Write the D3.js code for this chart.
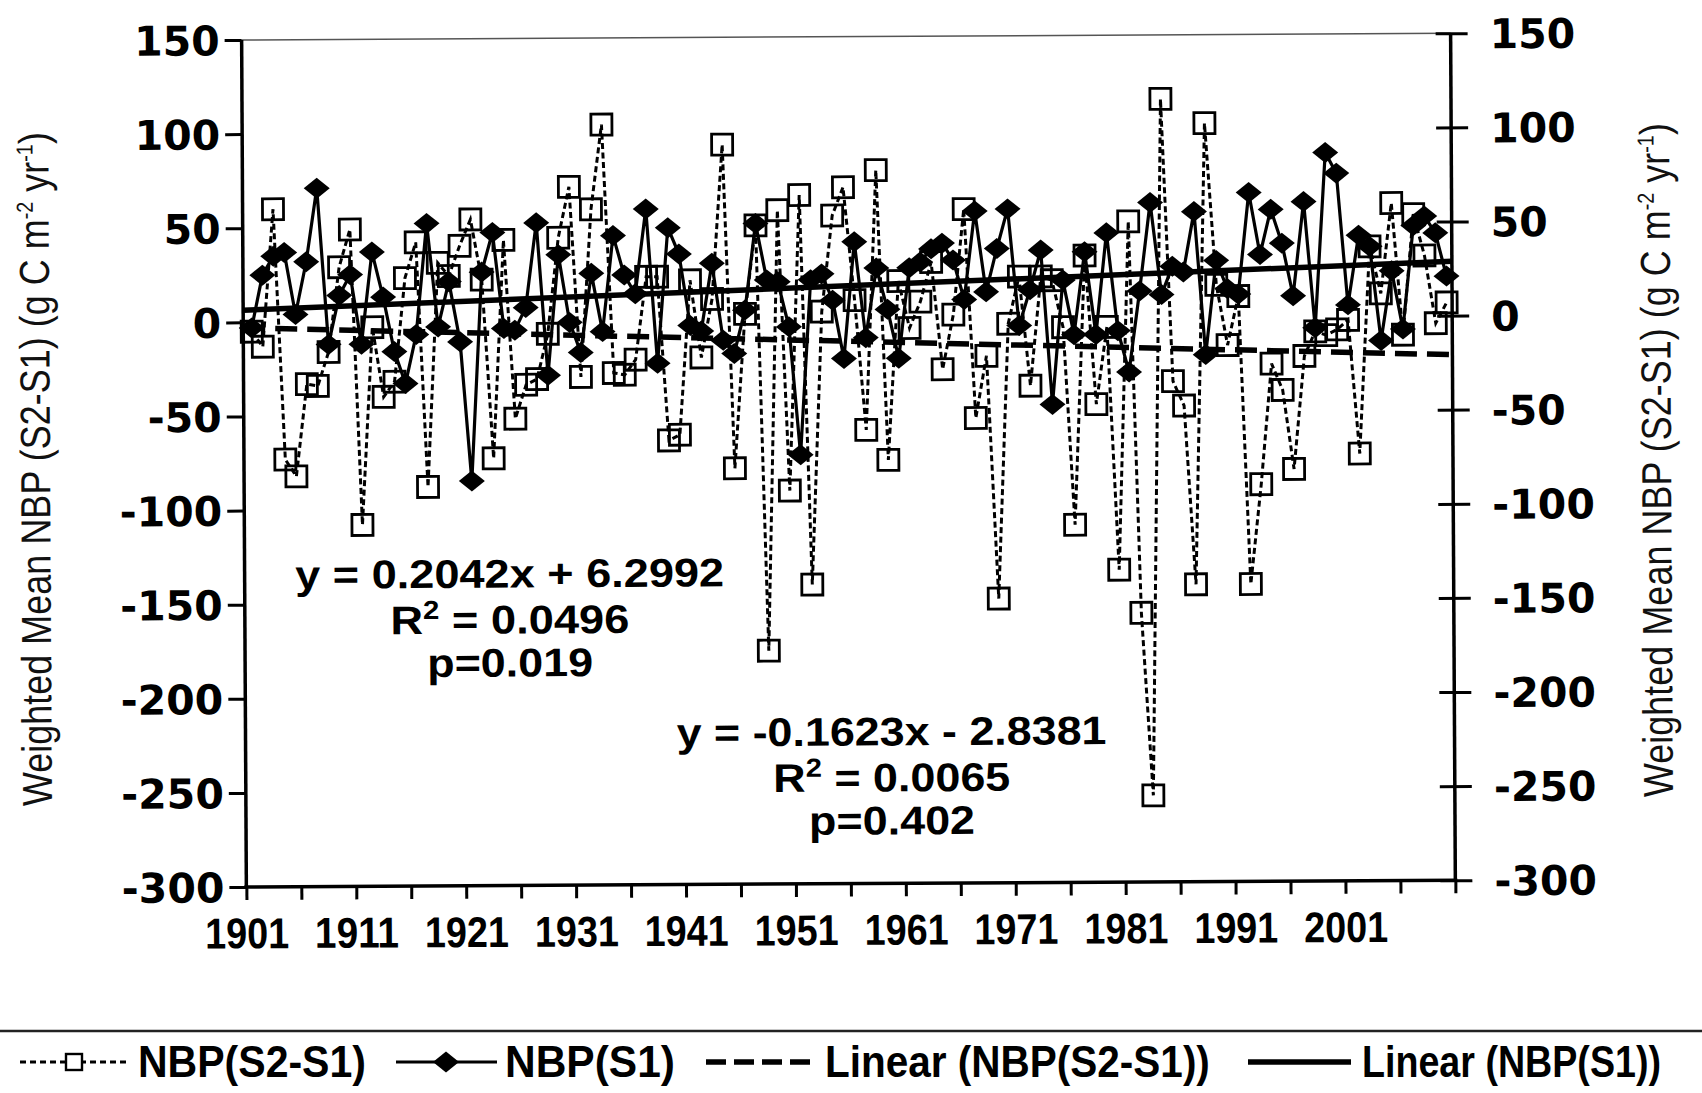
<html>
<head>
<meta charset="utf-8">
<script src="https://d3js.org/d3.v7.min.js"></script>
<style>
body { margin: 0; background: #fff; }
.tick-label { font-family: "DejaVu Sans", sans-serif; font-weight: bold; font-size: 41px; fill: #000; }
.year-label { font-family: "Liberation Sans", Arial, sans-serif; font-weight: bold; font-size: 43px; fill: #000; }
.eq { font-family: "Liberation Sans", Arial, sans-serif; font-weight: bold; font-size: 40px; fill: #000; }
.ytitle { font-family: "Liberation Sans", Arial, sans-serif; font-size: 40px; fill: #111; }
.legend { font-family: "Liberation Sans", Arial, sans-serif; font-weight: bold; font-size: 44px; fill: #000; }
</style>
</head>
<body>
<svg id="chart" width="1702" height="1093"></svg>
<script>

// categories
var years = d3.range(1901, 2011);

// NBP(S2-S1), open squares, dashed
var nbpS2S1 = [
  -5, -13, 60, -73, -82, -33, -34, -16, 29, 49,
  -108, -3, -40, -32, 23, 42, -88, 31, 24, 40,
  54, 22, -73, 43, -52, -34, -31, -7, 44, 71,
  -30, 59, 104, -28, -29, -21, 23, 23, -64, -61,
  21, -20, 11, 93, -79, 3, 50, -176, 58, -91,
  66, -141, 4, 55, 70, 10, -59, 79, -75, 20,
  -5, 9, 30, -27, 2, 58, -53, -20, -149, -3,
  22, -36, 22, 20, -5, -110, 33, -46, -5, -134,
  51, -157, -254, 116, -34, -47, -142, 103, 17, -15,
  11, -142, -89, -25, -39, -81, -21, -8, -10, -7,
  -2, -73, 37, 12, 60, -10, 54, 32, -4, 7
];

// NBP(S1), filled diamonds, solid
var nbpS1 = [
  -3, 25, 35, 37, 4, 32, 71, -12, 14, 25,
  -12, 37, 13, -16, -33, -7, 52, -3, 21, -11,
  -85, 26, 47, -4, -5, 7, 52, -29, 35, -1,
  -17, 25, -6, 45, 24, 14, 59, -23, 49, 35,
  -3, -6, 30, -11, -18, 5, 51, 21, 20, -4,
  -72, 21, 24, 10, -21, 41, -10, 27, 5, -21,
  27, 30, 37, 40, 31, 10, 57, 14, 37, 58,
  -4, 15, 36, -46, 20, -9, 35, -9, 45, -7,
  -29, 14, 61, 12, 27, 24, 56, -20, 30, 15,
  12, 66, 33, 57, 39, 11, 61, -6, 87, 76,
  6, 43, 37, -13, 24, -7, 48, 53, 44, 21
];

// linear trend lines as printed on the chart (x = 1..110)
var trendS2S1 = { slope: -0.1623, intercept: -2.8381 };
var trendS1   = { slope: 0.2042,  intercept: 6.2992 };

var yTicks = [150, 100, 50, 0, -50, -100, -150, -200, -250, -300];
var xTickYears = d3.range(1901, 2012, 5);
var xLabelYears = [1901, 1911, 1921, 1931, 1941, 1951, 1961, 1971, 1981, 1991, 2001];

var eq1 = ["y = 0.2042x + 6.2992", "0.0496", "p=0.019"];
var eq2 = ["y = -0.1623x - 2.8381", "0.0065", "p=0.402"];

var legendItems = ["NBP(S2-S1)", "NBP(S1)", "Linear (NBP(S2-S1))", "Linear (NBP(S1))"];

var width = 1702, height = 1093;
var margin = {top: 40, right: 249, bottom: 206, left: 244};

var root = d3.select("#chart");
root.append("rect").attr("width", width).attr("height", height).attr("fill", "#fff");

// the printed chart is slightly tilted
var svg = root.append("g")
    .attr("transform", "rotate(-0.32, 244, 464)");

var x0 = margin.left, x1 = width - margin.right;
var y0 = margin.top, y1 = height - margin.bottom;

var x = d3.scaleBand()
    .domain(years)
    .range([x0 + 3, x1]);

// edges of the categories, for ticks and trend lines
var xEdge = d3.scaleLinear()
    .domain([1901, 2011])
    .range([x0, x1]);

var y = d3.scaleLinear()
    .domain([-300, 150])
    .range([y1, y0]);

var cx = function(d, i){ return x(years[i]) + x.bandwidth()/2; };

// squeeze or stretch a text horizontally to a given width, keeping its height
function squeeze(sel, w){
    sel.each(function(){
        var t = d3.select(this);
        var n = this.getComputedTextLength();
        if (!n) return;
        var px = +t.attr("x") || 0, py = +t.attr("y") || 0;
        t.attr("x", 0).attr("y", 0)
         .attr("transform", "translate(" + px + "," + py + ") scale(" + (w / n) + ",1)");
    });
}

// thin plot border on top
svg.append("line")
    .attr("x1", x0).attr("x2", x1).attr("y1", y0).attr("y2", y0)
    .attr("stroke", "#555").attr("stroke-width", 1.5);

// left axis
var leftAxis = svg.append("g")
    .attr("transform", "translate(" + x0 + ",0)")
    .call(d3.axisLeft(y).tickValues(yTicks).tickSize(17).tickPadding(5)
        .tickFormat(function(d){ return String(d); }));
leftAxis.select(".domain").remove();
leftAxis.selectAll("line").attr("stroke", "#000").attr("stroke-width", 3);
leftAxis.selectAll("text").attr("class", "tick-label").attr("dy", "0.36em");

// right axis
var rightAxis = svg.append("g")
    .attr("transform", "translate(" + x1 + ",0)")
    .call(d3.axisRight(y).tickValues(yTicks).tickSize(17).tickPadding(22)
        .tickFormat(function(d){ return String(d); }));
rightAxis.select(".domain").remove();
rightAxis.selectAll("line").attr("x1", -15).attr("stroke", "#000").attr("stroke-width", 3);
rightAxis.selectAll("text").attr("class", "tick-label").attr("dy", "0.36em");

// bottom axis
var bottomAxis = svg.append("g")
    .attr("transform", "translate(0," + y1 + ")")
    .call(d3.axisBottom(xEdge)
        .tickValues(xTickYears)
        .tickSize(13)
        .tickPadding(16)
        .tickFormat(function(d){ return xLabelYears.indexOf(d) >= 0 ? d : ""; }));
bottomAxis.select(".domain").remove();
bottomAxis.selectAll("line").attr("stroke", "#000").attr("stroke-width", 3);
bottomAxis.selectAll("text").attr("class", "year-label").attr("dy", "0.75em")
    .filter(function(d){ return xLabelYears.indexOf(d) >= 0; })
    .call(squeeze, 84);

// axis lines
svg.append("line").attr("x1", x0).attr("x2", x0).attr("y1", y0).attr("y2", y1)
    .attr("stroke", "#000").attr("stroke-width", 3.5);
svg.append("line").attr("x1", x1).attr("x2", x1).attr("y1", y0).attr("y2", y1)
    .attr("stroke", "#000").attr("stroke-width", 3.5);
svg.append("line").attr("x1", x0 - 2).attr("x2", x1 + 2).attr("y1", y1).attr("y2", y1)
    .attr("stroke", "#000").attr("stroke-width", 3.5);

// NBP(S2-S1) line + squares
var line = d3.line().x(cx).y(function(d){ return y(d); });

svg.append("path")
    .datum(nbpS2S1)
    .attr("d", line)
    .attr("fill", "none")
    .attr("stroke", "#000")
    .attr("stroke-width", 3)
    .attr("stroke-dasharray", "6,3.5");

var sq = 21;
svg.selectAll(".sq")
    .data(nbpS2S1)
    .enter().append("rect")
    .attr("class", "sq")
    .attr("x", function(d, i){ return cx(d, i) - sq/2; })
    .attr("y", function(d){ return y(d) - sq/2; })
    .attr("width", sq).attr("height", sq)
    .attr("fill", "none")
    .attr("stroke", "#000")
    .attr("stroke-width", 2.8);

// NBP(S1) line + diamonds
svg.append("path")
    .datum(nbpS1)
    .attr("d", line)
    .attr("fill", "none")
    .attr("stroke", "#000")
    .attr("stroke-width", 3.2);

var diamond = "M0,-10.5L13,0L0,10.5L-13,0Z";
svg.selectAll(".dia")
    .data(nbpS1)
    .enter().append("path")
    .attr("class", "dia")
    .attr("d", diamond)
    .attr("transform", function(d, i){ return "translate(" + cx(d, i) + "," + y(d) + ")"; })
    .attr("fill", "#000");

// trend lines
function trend(t){
    var n = years.length;
    return [
        [xEdge(1901), y(t.intercept + t.slope * 0.5)],
        [xEdge(2011), y(t.intercept + t.slope * (n + 0.5))]
    ];
}
svg.append("path")
    .attr("d", d3.line()(trend(trendS2S1)))
    .attr("stroke", "#000").attr("stroke-width", 5.5)
    .attr("stroke-dasharray", "22,10")
    .attr("fill", "none");
svg.append("path")
    .attr("d", d3.line()(trend(trendS1)))
    .attr("stroke", "#000").attr("stroke-width", 5.5)
    .attr("fill", "none");

// equations
function equation(lines, cxPos, baseY, widths){
    var a = svg.append("text").attr("class", "eq").attr("text-anchor", "middle")
        .attr("x", cxPos).attr("y", baseY).text(lines[0]);
    var b = svg.append("text").attr("class", "eq").attr("text-anchor", "middle")
        .attr("x", cxPos).attr("y", baseY + 46);
    b.append("tspan").text("R");
    b.append("tspan").attr("dy", -15).style("font-size", "26px").text("2");
    b.append("tspan").attr("dy", 15).text(" = " + lines[1]);
    var c = svg.append("text").attr("class", "eq").attr("text-anchor", "middle")
        .attr("x", cxPos).attr("y", baseY + 89).text(lines[2]);
    a.call(squeeze, widths[0]);
    b.call(squeeze, widths[1]);
    c.call(squeeze, widths[2]);
}
equation(eq1, 509, 589, [429, 239, 166]);
equation(eq2, 890, 749, [430, 237, 166]);

// y titles (condensed lettering)
function yTitle(xPos){
    var t = svg.append("text")
        .attr("class", "ytitle")
        .attr("text-anchor", "middle")
        .attr("transform", "translate(" + xPos + ",468) rotate(-90) scale(0.9,1.05)");
    t.append("tspan").text("Weighted Mean NBP (S2-S1) (g C m");
    t.append("tspan").attr("dy", -15).style("font-size", "22px").text("-2");
    t.append("tspan").attr("dy", 15).text(" yr");
    t.append("tspan").attr("dy", -15).style("font-size", "22px").text("-1");
    t.append("tspan").attr("dy", 15).text(")");
}
yTitle(50);
yTitle(1671);

// border line above legend
root.append("line")
    .attr("x1", 0).attr("x2", width).attr("y1", 1031).attr("y2", 1031)
    .attr("stroke", "#222").attr("stroke-width", 2.5);

// legend
var ly = 1062;
var lg = root.append("g");
lg.append("line").attr("x1", 20).attr("x2", 128).attr("y1", ly).attr("y2", ly)
    .attr("stroke", "#000").attr("stroke-width", 2.8).attr("stroke-dasharray", "6,4");
lg.append("rect").attr("x", 74 - 8).attr("y", ly - 8).attr("width", 16).attr("height", 16)
    .attr("fill", "#fff").attr("stroke", "#000").attr("stroke-width", 2.4);
lg.append("line").attr("x1", 396).attr("x2", 497).attr("y1", ly).attr("y2", ly)
    .attr("stroke", "#000").attr("stroke-width", 3);
lg.append("path").attr("d", diamond).attr("transform", "translate(446," + ly + ")").attr("fill", "#000");
lg.append("line").attr("x1", 706).attr("x2", 816).attr("y1", ly).attr("y2", ly)
    .attr("stroke", "#000").attr("stroke-width", 5.5).attr("stroke-dasharray", "20,8");
lg.append("line").attr("x1", 1248).attr("x2", 1351).attr("y1", ly).attr("y2", ly)
    .attr("stroke", "#000").attr("stroke-width", 5.5);

var legendX = [138, 505, 825, 1362];
var legendW = [228, 170, 385, 299];
lg.selectAll(".legend")
    .data(legendItems)
    .enter().append("text")
    .attr("class", "legend")
    .attr("x", function(d, i){ return legendX[i]; })
    .attr("y", ly + 15)
    .text(function(d){ return d; })
    .each(function(d, i){ d3.select(this).call(squeeze, legendW[i]); });

</script>
</body>
</html>
